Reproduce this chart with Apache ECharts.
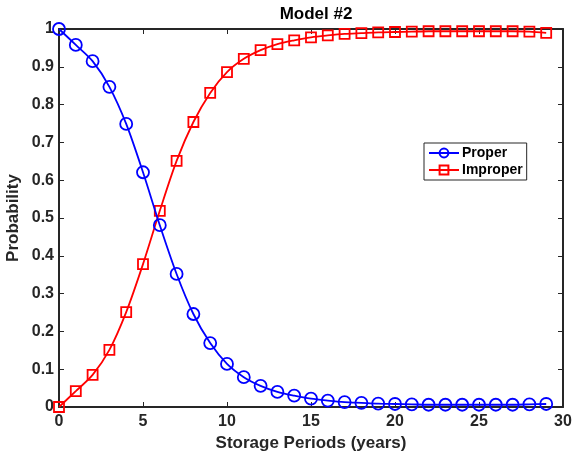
<!DOCTYPE html>
<html><head><meta charset="utf-8">
<script src="https://cdn.jsdelivr.net/npm/echarts@6/dist/echarts.min.js"></script>
<style>html,body{margin:0;padding:0;background:#fff}#c{width:572px;height:459px}</style>
</head><body><div id="c"></div>
<script>
const years = [0,1,2,3,4,5,6,7,8,9,10,11,12,13,14,15,16,17,18,19,20,21,22,23,24,25,26,27,28,29];
const proper = [1.0,0.958,0.915,0.847,0.749,0.621,0.481,0.352,0.246,0.169,0.114,0.079,0.056,0.040,0.030,0.022,0.017,0.013,0.011,0.009,0.008,0.007,0.006,0.006,0.006,0.006,0.006,0.006,0.007,0.008];
const improper = [0.0,0.042,0.085,0.151,0.251,0.378,0.519,0.651,0.754,0.831,0.886,0.921,0.944,0.960,0.970,0.978,0.983,0.987,0.989,0.991,0.992,0.993,0.994,0.994,0.994,0.994,0.994,0.994,0.993,0.990];
const xTicks = [0,5,10,15,20,25,30];
const yTicks = ['0','0.1','0.2','0.3','0.4','0.5','0.6','0.7','0.8','0.9','1'];

const chart = echarts.init(document.getElementById('c'));
const font = 'Liberation Sans, Arial, sans-serif';
const axisCol = '#262626';
function pairs(v){ return years.map((x,i)=>[x,v[i]]); }
const tickStyle = {show:true,inside:true,length:5,lineStyle:{color:axisCol,width:1}};
const lineStyle = {show:true,onZero:false,lineStyle:{color:axisCol,width:2}};
chart.setOption({
  animation:false,
  title:{text:'Model #2',left:311,top:1,textAlign:'center',textStyle:{fontFamily:font,fontWeight:'bold',fontSize:17,color:'#000'}},
  grid:{left:59,right:9,top:29,bottom:52,containLabel:false,outerBoundsMode:'none'},
  legend:{
    orient:'vertical',left:424,top:143,
    backgroundColor:'#fff',borderColor:'#262626',borderWidth:1,padding:[3,4,3,4],
    itemWidth:30,itemHeight:11,itemGap:3,
    textStyle:{fontFamily:font,fontWeight:'bold',fontSize:14,color:'#000',padding:[0,0,0,-2]},
    data:['Proper','Improper']
  },
  xAxis:[{
    type:'value',min:0,max:30,interval:5,
    name:'Storage Periods (years)',nameLocation:'middle',nameGap:28,
    nameTextStyle:{fontFamily:font,fontWeight:'bold',fontSize:17,color:'#262626'},
    axisLine:lineStyle,axisTick:tickStyle,
    axisLabel:{fontFamily:font,fontWeight:'bold',fontSize:16,color:'#262626',margin:7,
      formatter:v=>xTicks.indexOf(v)>=0?String(v):''},
    splitLine:{show:false}
  },{
    type:'value',min:0,max:30,interval:5,position:'top',
    axisLine:lineStyle,axisTick:tickStyle,
    axisLabel:{show:false},splitLine:{show:false}
  }],
  yAxis:[{
    type:'value',min:0,max:1,interval:0.1,
    name:'Probability',nameLocation:'middle',nameGap:37,nameMoveOverlap:false,
    nameTextStyle:{fontFamily:font,fontWeight:'bold',fontSize:17,color:'#262626'},
    axisLine:lineStyle,axisTick:tickStyle,
    axisLabel:{fontFamily:font,fontWeight:'bold',fontSize:16,color:'#262626',margin:5,
      formatter:v=>yTicks[Math.round(v*10)]},
    splitLine:{show:false}
  },{
    type:'value',min:0,max:1,interval:0.1,position:'right',
    axisLine:lineStyle,axisTick:tickStyle,
    axisLabel:{show:false},splitLine:{show:false}
  }],
  series:[{
    name:'Proper',type:'line',data:pairs(proper),smooth:0.3,
    symbol:'circle',symbolSize:12,showAllSymbol:true,
    lineStyle:{color:'#0000ff',width:1.8},
    itemStyle:{color:'rgba(0,0,0,0)',borderColor:'#0000ff',borderWidth:1.8},
    z:3
  },{
    name:'Improper',type:'line',data:pairs(improper),smooth:0.3,
    symbol:'rect',symbolSize:10,showAllSymbol:true,
    lineStyle:{color:'#ff0000',width:1.8},
    itemStyle:{color:'rgba(0,0,0,0)',borderColor:'#ff0000',borderWidth:1.8},
    z:2
  }]
});
</script></body></html>
